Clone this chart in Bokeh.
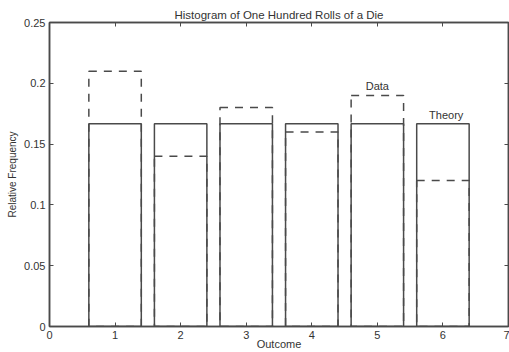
from bokeh.plotting import figure
from bokeh.models import Range1d, LinearAxis, FixedTicker, ColumnDataSource
from bokeh.core.properties import value
from bokeh.embed import file_html
from bokeh.resources import INLINE

outcomes = [1, 2, 3, 4, 5, 6]
theory = [1/6, 1/6, 1/6, 1/6, 1/6, 1/6]
data = [0.21, 0.14, 0.18, 0.16, 0.19, 0.12]
x_ticks = [0, 1, 2, 3, 4, 5, 6, 7]
y_ticks = [0, 0.05, 0.1, 0.15, 0.2, 0.25]
y_tick_labels = ["0", "0.05", "0.1", "0.15", "0.2", "0.25"]
labels = ["Data", "Theory"]
label_x = [5, 6.05]
label_y = [0.198, 0.174]

FONT = "Liberation Sans"
LC = "#4a4a4a"
TC = "#333333"
half = 0.4

src = ColumnDataSource(dict(
    left=[o - half for o in outcomes],
    right=[o + half for o in outcomes],
    theory=theory,
    data=data,
))

p = figure(width=509, height=352, output_backend="svg", toolbar_location=None,
           x_range=Range1d(0, 7), y_range=Range1d(0, 0.25),
           title="Histogram of One Hundred Rolls of a Die",
           min_border_left=49, min_border_right=1, min_border_top=22, min_border_bottom=26)

p.title.text_font = FONT
p.title.text_font_size = "11.5px"
p.title.text_font_style = "normal"
p.title.align = "center"
p.title.text_color = TC
p.title.standoff = 4
p.title.offset = 6

p.xgrid.visible = False
p.ygrid.visible = False
p.outline_line_color = LC
p.outline_line_width = 1.5

for ax, ticks in ((p.xaxis[0], x_ticks), (p.yaxis[0], y_ticks)):
    ax.ticker = FixedTicker(ticks=ticks)
    ax.major_tick_in = 4
    ax.major_tick_out = 0
    ax.minor_tick_line_color = None
    ax.axis_line_color = LC
    ax.axis_line_width = 1.5
    ax.major_tick_line_color = LC
    ax.major_label_text_font = FONT
    ax.major_label_text_font_size = "11px"
    ax.major_label_text_color = TC
    ax.axis_label_text_font = FONT
    ax.axis_label_text_font_size = "11px"
    ax.axis_label_text_font_style = "normal"
    ax.axis_label_text_color = TC

p.yaxis.axis_label_text_font_size = "10px"
p.xaxis.axis_label = "Outcome"
p.yaxis.axis_label = "Relative Frequency"
p.xaxis.major_label_standoff = 4
p.yaxis.major_label_standoff = 4
p.xaxis.axis_label_standoff = -4
p.yaxis.axis_label_standoff = 3
p.yaxis.major_label_overrides = dict(zip(y_ticks, y_tick_labels))

for loc, ticks in (("above", x_ticks), ("right", y_ticks)):
    ax = LinearAxis(ticker=FixedTicker(ticks=ticks), major_tick_in=4, major_tick_out=0,
                    minor_tick_line_color=None, axis_line_color=LC, axis_line_width=1.5,
                    major_tick_line_color=LC, major_label_standoff=0, axis_label_standoff=0,
                    major_label_overrides={t: "" for t in ticks})
    p.add_layout(ax, loc)

p.quad(left="left", right="right", bottom=0, top="theory", source=src,
       fill_alpha=0, line_color=LC, line_width=1.5)
p.quad(left="left", right="right", bottom=0, top="data", source=src,
       fill_alpha=0, line_color=LC, line_width=1.5, line_dash="8 7")

p.text(x=label_x, y=label_y, text=labels, text_font=value(FONT), text_font_size="11px",
       text_align="center", text_baseline="middle", text_color=TC)

open("out.html", "w").write(file_html(p, INLINE))
